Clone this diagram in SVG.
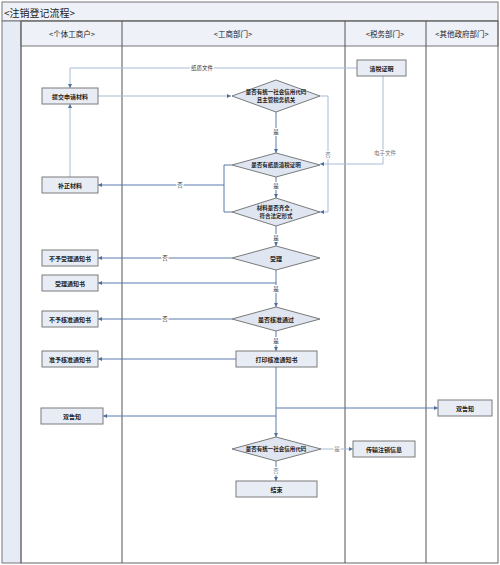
<svg xmlns="http://www.w3.org/2000/svg" width="500" height="565" viewBox="0 0 500 565">
<defs>
<marker id="ah" viewBox="0 0 6 6" refX="6" refY="3" markerWidth="4" markerHeight="4" orient="auto">
<path d="M0,0 L6,3 L0,6 z" fill="#4f6fa0"/>
</marker>
<style>
text{font-family:"Noto Sans CJK SC","Liberation Sans",sans-serif;fill:#222;}
.t{font-size:6px;font-weight:bold;text-anchor:middle;dominant-baseline:central;}
.h{font-size:7.5px;text-anchor:middle;dominant-baseline:central;}
.l{font-size:5.5px;text-anchor:middle;dominant-baseline:central;fill:#333;stroke:#fff;stroke-width:2px;paint-order:stroke;}
.lg{font-size:5.5px;text-anchor:middle;dominant-baseline:central;fill:#777;stroke:#fff;stroke-width:2px;paint-order:stroke;}
.box{fill:#e8edf5;stroke:#7a7a7a;stroke-width:1;}
.dia{fill:#dfe6f1;stroke:#7a7a7a;stroke-width:1;}
.c{fill:none;stroke:#5a7bb0;stroke-width:1;}
.cl{fill:none;stroke:#a9bbd5;stroke-width:1;}
.lane{stroke:#555;stroke-width:1;fill:none;}
</style>
</defs>
<rect x="0" y="0" width="500" height="565" fill="#fff"/>
<g id="frame">
<rect x="2" y="2" width="496" height="19" fill="#eef1f7" stroke="#777"/>
<text x="4" y="12" style="font-size:10px;dominant-baseline:central;">&lt;注销登记流程&gt;</text>
<rect x="2" y="21" width="19" height="542" fill="#e6ecf5" stroke="#777"/>
<rect x="21" y="21" width="477" height="25" fill="#eef1f7" stroke="#777"/>
<rect x="21" y="21" width="477" height="542" fill="none" stroke="#666"/>
<line class="lane" x1="122" y1="21" x2="122" y2="563"/>
<line class="lane" x1="345" y1="21" x2="345" y2="563"/>
<line class="lane" x1="426" y1="21" x2="426" y2="563"/>
<text class="h" x="72" y="33">&lt;个体工商户&gt;</text>
<text class="h" x="233" y="33">&lt;工商部门&gt;</text>
<text class="h" x="385" y="33">&lt;税务部门&gt;</text>
<text class="h" x="462" y="33">&lt;其他政府部门&gt;</text>
</g>
<g id="connectors">
<polyline class="cl" points="357,68 70,68 70,88" marker-end="url(#ah)"/>
<text class="l" x="202" y="68">纸质文件</text>
<line class="cl" x1="98" y1="96" x2="231" y2="96" marker-end="url(#ah)"/>
<line class="c" x1="276" y1="112" x2="276" y2="153" marker-end="url(#ah)"/>
<text class="l" x="276" y="132">是</text>
<polyline class="cl" points="320,96 328,96 328,212 320,212" marker-end="url(#ah)"/>
<text class="lg" x="328" y="155">否</text>
<polyline class="cl" points="383,76 383,164 320,164" marker-end="url(#ah)"/>
<text class="lg" x="385" y="153">电子文件</text>
<polyline class="c" points="232,165 224,165 224,212 232,212"/>
<line class="c" x1="224" y1="185" x2="98" y2="185" marker-end="url(#ah)"/>
<text class="l" x="180" y="185">否</text>
<line class="cl" x1="70" y1="177" x2="70" y2="104" marker-end="url(#ah)"/>
<line class="c" x1="276" y1="177" x2="276" y2="198" marker-end="url(#ah)"/>
<text class="l" x="276" y="186">是</text>
<line class="c" x1="276" y1="226" x2="276" y2="246" marker-end="url(#ah)"/>
<text class="l" x="276" y="238">是</text>
<line class="c" x1="232" y1="258" x2="98" y2="258" marker-end="url(#ah)"/>
<text class="l" x="165" y="258">否</text>
<line class="c" x1="276" y1="270" x2="276" y2="307" marker-end="url(#ah)"/>
<line class="c" x1="276" y1="283" x2="98" y2="283" marker-end="url(#ah)"/>
<text class="l" x="276" y="289">是</text>
<line class="c" x1="232" y1="319" x2="98" y2="319" marker-end="url(#ah)"/>
<text class="l" x="165" y="319">否</text>
<line class="c" x1="276" y1="331" x2="276" y2="351" marker-end="url(#ah)"/>
<text class="l" x="276" y="341">是</text>
<line class="c" x1="236" y1="359" x2="98" y2="359" marker-end="url(#ah)"/>
<line class="c" x1="276" y1="367" x2="276" y2="437" marker-end="url(#ah)"/>
<line class="c" x1="276" y1="408" x2="438" y2="408" marker-end="url(#ah)"/>
<line class="c" x1="276" y1="416" x2="103" y2="416" marker-end="url(#ah)"/>
<line class="cl" x1="321" y1="449" x2="353" y2="449" marker-end="url(#ah)"/>
<text class="lg" x="337" y="449">是</text>
<line class="c" x1="276" y1="461" x2="276" y2="481" marker-end="url(#ah)"/>
<text class="lg" x="276" y="471">否</text>
</g>
<g id="n-qingshui"><rect class="box" x="357" y="60" width="49" height="16"/><text class="t" x="381.5" y="68">清税证明</text></g>
<g id="n-tijiao"><rect class="box" x="42" y="88" width="56" height="16"/><text class="t" x="70" y="96">提交申请材料</text></g>
<g id="n-d1"><polygon class="dia" points="232,96 276,80 320,96 276,112"/><text class="t" x="276" y="92" style="font-size:5.5px">是否有统一社会信用代码</text><text class="t" x="276" y="100" style="font-size:5.5px">且主管税务机关</text></g>
<g id="n-d2"><polygon class="dia" points="232,165 276,153 320,165 276,177"/><text class="t" x="276" y="165" style="font-size:5.5px">是否有纸质清税证明</text></g>
<g id="n-buzheng"><rect class="box" x="42" y="177" width="56" height="16"/><text class="t" x="70" y="185">补正材料</text></g>
<g id="n-d3"><polygon class="dia" points="232,212 276,198 320,212 276,226"/><text class="t" x="276" y="208" style="font-size:5.5px">材料是否齐全，</text><text class="t" x="276" y="216" style="font-size:5.5px">符合法定形式</text></g>
<g id="n-shouli"><polygon class="dia" points="232,258 276,246 320,258 276,270"/><text class="t" x="276" y="258">受理</text></g>
<g id="n-buyushouli"><rect class="box" x="42" y="250" width="56" height="16"/><text class="t" x="70" y="258">不予受理通知书</text></g>
<g id="n-shoulitz"><rect class="box" x="42" y="275" width="56" height="16"/><text class="t" x="70" y="283">受理通知书</text></g>
<g id="n-hezhun"><polygon class="dia" points="232,319 276,307 320,319 276,331"/><text class="t" x="276" y="319">是否核准通过</text></g>
<g id="n-buyuhezhun"><rect class="box" x="42" y="311" width="56" height="16"/><text class="t" x="70" y="319">不予核准通知书</text></g>
<g id="n-dayin"><rect class="box" x="236" y="351" width="81" height="16"/><text class="t" x="276.5" y="359">打印核准通知书</text></g>
<g id="n-zhunyu"><rect class="box" x="42" y="351" width="56" height="16"/><text class="t" x="70" y="359">准予核准通知书</text></g>
<g id="n-shuang1"><rect class="box" x="41" y="408" width="62" height="16"/><text class="t" x="72" y="416">双告知</text></g>
<g id="n-shuang2"><rect class="box" x="438" y="400" width="54" height="16"/><text class="t" x="465" y="408">双告知</text></g>
<g id="n-d4"><polygon class="dia" points="232,449 276,437 321,449 276,461"/><text class="t" x="276" y="449" style="font-size:5.5px">是否有统一社会信用代码</text></g>
<g id="n-chuanshu"><rect class="box" x="353" y="441" width="62" height="16"/><text class="t" x="384" y="449">传输注销信息</text></g>
<g id="n-end"><rect class="box" x="236" y="481" width="81" height="16"/><text class="t" x="276.5" y="489">结束</text></g>
</svg>
